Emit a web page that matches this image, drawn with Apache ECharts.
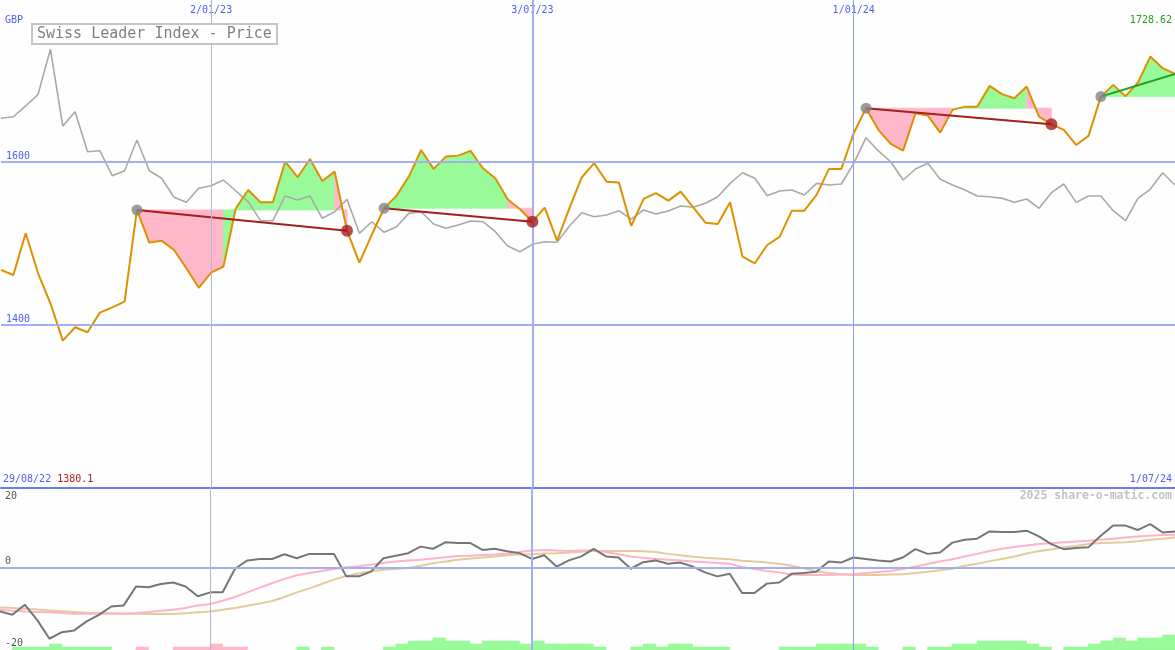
<!DOCTYPE html>
<html><head><meta charset="utf-8">
<script src="https://cdn.jsdelivr.net/npm/echarts@6/dist/echarts.min.js"></script>
<style>html,body{margin:0;padding:0;background:#fdfefd}#c{width:1175px;height:650px}</style>
</head><body><div id="c"></div>
<script>
// ---- data (weekly points, index 0..95) ----
const price = [1466.9,1460.7,1511.9,1462.8,1426,1380.1,1396.6,1390.4,1414.5,1421,1428,
 1540.5,1500.4,1502.8,1491.4,1469,1445,1463.6,1471,1542.6,1565,
 1550,1550,1599.8,1580.6,1603,1576,1587.5,1515,1475.8,1510,
 1542.6,1557.7,1581.4,1614,1590.8,1605.9,1607.1,1612.9,1591.6,1579.4,
 1553.6,1541.3,1526,1543.3,1502.8,1542.6,1580.6,1597.8,1575.2,1574,
 1520.9,1554,1561,1551.9,1563,1543.8,1524.9,1523.3,1550,1483.2,
 1475,1497.5,1507.5,1539.6,1539.6,1558.9,1590.8,1590.8,1634.6,1665.3,
 1638.7,1621.5,1613.3,1659.1,1656.2,1635.3,1663.2,1667.2,1667.2,1692.6,
 1682.5,1677.5,1691.8,1655,1645.6,1638.7,1620.2,1631.3,1679.5,1693.9,
 1680,1696.7,1728.62,1714.4,1707.4];
const compare = [1652.9,1654.8,1668,1682.3,1737.5,1643.4,1661,1611.9,1613.1,1582.5,1588.6,
 1626.3,1588.6,1579.3,1556,1549.8,1567,1570.2,1577.2,1563.7,1550.6,
 1527.3,1527.3,1557.6,1552.6,1557.6,1530.2,1538.3,1553.5,1511.8,1526,
 1513,1519.9,1536.3,1538.3,1523.2,1517.9,1522,1526.9,1526,1513.8,
 1496.2,1489.2,1498.3,1501.5,1500.8,1520.8,1537.1,1532.2,1534.2,1539.5,
 1529.3,1540.4,1535.5,1539.2,1545.3,1543.7,1548.6,1556.7,1573.1,1586.1,
 1579.3,1557.9,1563.7,1564.9,1558.8,1573.1,1571,1572.3,1597.7,1629.1,
 1612.8,1599.6,1577.2,1590.7,1597.7,1578,1571,1564.9,1557.6,1556.7,
 1554.7,1549.8,1553.9,1542.5,1561.6,1572.3,1549.8,1557.6,1557.6,1539.5,
 1527.3,1554.7,1565.8,1586.1,1571];
const momentum = [-12.2,-13.1,-10.3,-14.5,-19.7,-17.9,-17.4,-14.9,-13.1,-10.8,-10.5,
 -5.3,-5.5,-4.6,-4.2,-5.3,-8.0,-6.9,-6.9,-0.4,1.9,
 2.3,2.3,3.6,2.5,3.7,3.7,3.7,-2.5,-2.5,-1.2,
 2.5,3.2,3.9,5.7,5.1,6.9,6.7,6.7,4.8,5.1,
 4.4,3.9,2.3,3.3,0.2,1.9,3.0,5.1,3.0,2.7,
 -0.4,1.4,1.9,1.0,1.3,0.2,-1.4,-2.5,-1.8,-7.1,
 -7.1,-4.5,-4.2,-1.8,-1.6,-1.2,1.6,1.3,2.7,2.3,
 1.9,1.6,2.7,5.0,3.7,4.1,6.8,7.6,7.9,9.9,
 9.7,9.7,10.1,8.5,6.4,5.0,5.3,5.5,8.7,11.5,
 11.5,10.3,11.9,9.6,9.9];
const avgFast = [-11.7,-12.0,-12.2,-12.3,-12.4,-12.6,-12.8,-12.8,-12.8,-12.8,-12.8,
 -12.6,-12.3,-12.0,-11.7,-11.2,-10.5,-10.1,-9.2,-8.2,-6.9,
 -5.6,-4.4,-3.2,-2.2,-1.6,-1.0,-0.5,0.0,0.3,0.7,
 1.2,1.6,1.9,2.1,2.4,2.8,3.1,3.2,3.4,3.5,
 3.8,4.2,4.6,4.8,4.6,4.5,4.6,4.6,4.2,3.6,
 3.0,2.6,2.3,2.1,1.9,1.6,1.4,1.2,1.0,0.1,
 -0.5,-1.0,-1.4,-2.0,-2.1,-2.1,-2.1,-2.0,-1.9,-1.6,
 -1.3,-1.0,-0.5,0.2,0.9,1.6,2.2,3.0,3.7,4.5,
 5.1,5.6,6.0,6.4,6.6,6.9,7.1,7.3,7.6,7.9,
 8.2,8.5,8.7,8.9,9.0];
const avgSlow = [-11.1,-11.2,-11.4,-11.6,-11.9,-12.1,-12.3,-12.5,-12.6,-12.7,-12.8,
 -12.8,-12.9,-12.9,-12.9,-12.7,-12.4,-12.2,-11.7,-11.2,-10.6,
 -10.0,-9.3,-8.2,-6.9,-5.8,-4.6,-3.4,-2.4,-1.7,-1.1,
 -0.7,-0.5,-0.2,0.4,1.1,1.6,2.1,2.4,2.7,3.0,
 3.3,3.5,3.6,3.8,3.9,4.1,4.3,4.5,4.5,4.5,
 4.5,4.4,4.2,3.7,3.3,2.9,2.6,2.4,2.2,1.8,
 1.6,1.3,1.0,0.4,-0.3,-1.1,-1.6,-1.9,-2.1,-2.1,
 -2.1,-2.0,-1.9,-1.6,-1.2,-0.8,-0.4,0.4,1.0,1.7,
 2.3,3.0,3.8,4.5,4.9,5.5,5.9,6.4,6.7,6.8,
 6.9,7.2,7.6,7.9,8.2];
// signed step heights of the bottom signal strip, one per week interval (+ green, - pink)
const signalBars = [0,1,1,1,2,1,1,1,1,0,0,
 -1,0,0,-1,-1,-1,-2,-1,-1,0,
 0,0,0,1,0,1,0,0,0,0,
 1,2,3,3,4,3,3,2,3,3,
 3,2,3,2,2,2,2,1,0,0,
 1,2,1,2,2,1,1,1,0,0,
 0,0,1,1,1,2,2,2,2,1,
 0,0,1,0,1,1,2,2,3,3,
 3,3,2,1,0,1,1,2,3,4,
 3,4,4,5,0];
const trades = [[11,28],[31,43],[70,85],[89,95]]; // [entry index, exit index]
const openTrades = [3];
const tickIdx = [17,43,69];
const tickLabels = ['2/01/23','3/07/23','1/01/24'];
const startLabel = '29/08/22', endLabel = '1/07/24';
const priceTicks = [1400,1600];
const lowerTicks = [-20,0,20];
const titleText = 'Swiss Leader Index - Price';
const currencyText = 'GBP';
const creditText = '2025 share-o-matic.com';

// ---- styles ----
const MONO = 'DejaVu Sans Mono';
const BLUE_TXT = '#4f5ff0';
const GRID_C = '#a3aff0';
const GREEN_F = '#98fa98';
const PINK_F = '#ffb7ca';
const N = price.length;

const fillData = [];
trades.forEach(([a,b]) => {
  const lv = price[a];
  for (let i = a; i < b; i++) fillData.push([i, price[i], price[i+1], lv]);
});
const barData = signalBars.map((v,i)=>[i,v]).filter(d=>d[1]!==0);
const entryPts = trades.map(([a]) => [a, price[a]]);
const exitPts = trades.filter((t,k)=>openTrades.indexOf(k)<0).map(([a,b]) => [b, price[b]]);
const tradeSeries = trades.map(([a,b]) => ({
  type:'line', xAxisIndex:0, yAxisIndex:0, z:4, symbol:'none', silent:true,
  data:[[a,price[a]],[b,price[b]]],
  lineStyle:{color: price[b] >= price[a] ? '#22a022' : '#a41f1f', width:2}
}));
const vLines = [
  {xAxis:tickIdx[0], lineStyle:{color:'#b3b6cc', width:1, type:'solid'}},
  {xAxis:tickIdx[1], lineStyle:{color:GRID_C, width:2, type:'solid'}},
  {xAxis:tickIdx[2], lineStyle:{color:'#8f9ff2', width:1, type:'solid'}}
];
const maxP = Math.max(...price), minP = Math.min(...price);
const lowRich = {fontFamily:MONO,fontSize:10,color:'#555555'};

const chart = echarts.init(document.getElementById('c'), null, {renderer:'canvas'});
chart.setOption({
  animation:false,
  backgroundColor:'#fdfefd',
  title:{text:titleText, left:32, top:24, padding:[3,5,2,5], borderColor:'#c4c4c4', borderWidth:2,
    backgroundColor:'#ffffff', textStyle:{fontFamily:MONO, fontSize:15, fontWeight:'normal', color:'#808080'}},
  graphic:[
    {type:'text', left:5, top:15, style:{text:currencyText, font:'10px "DejaVu Sans Mono"', fill:BLUE_TXT}},
    {type:'text', right:3, top:15, style:{text:String(maxP), font:'10px "DejaVu Sans Mono"', fill:'#22a022'}},
    {type:'text', right:3, top:490, style:{text:creditText, font:'bold 11.5px "DejaVu Sans Mono"', fill:'#c4c4c4'}}
  ],
  grid:[
    {left:0, right:0, top:0, height:487.5},
    {left:0, right:0, top:487.5, height:162.5}
  ],
  xAxis:[
    {type:'value', gridIndex:0, min:0, max:N-1, position:'bottom',
      axisLine:{show:true, onZero:false, lineStyle:{color:'#6c7ce8', width:2}},
      axisTick:{show:false}, splitLine:{show:false},
      axisLabel:{show:true, inside:true, margin:3, customValues:[0,N-1], alignMinLabel:'left', alignMaxLabel:'right',
        fontFamily:MONO, fontSize:10, color:BLUE_TXT,
        formatter:v => v===0 ? '{d|'+startLabel+'} {r|'+String(minP)+'}' : '{e|'+endLabel+'}',
        rich:{d:{fontFamily:MONO,fontSize:10,color:BLUE_TXT,padding:[0,0,0,2]}, r:{fontFamily:MONO,fontSize:10,color:'#a41f1f'},
              e:{fontFamily:MONO,fontSize:10,color:BLUE_TXT,padding:[0,3,0,0]}}}},
    {type:'value', gridIndex:0, min:0, max:N-1, position:'top',
      axisLine:{show:false}, axisTick:{show:false}, splitLine:{show:false},
      axisLabel:{show:true, inside:true, margin:5, customValues:tickIdx, fontFamily:MONO, fontSize:10, color:BLUE_TXT,
        formatter:v => tickLabels[tickIdx.indexOf(v)]}},
    {type:'value', gridIndex:1, min:0, max:N-1, show:false}
  ],
  yAxis:[
    {type:'value', gridIndex:0, min:1200, max:1798, position:'left',
      axisLine:{show:false}, axisTick:{show:false}, splitLine:{show:false},
      axisLabel:{show:true, inside:true, margin:5, customValues:priceTicks, verticalAlign:'bottom',
        fontFamily:MONO, fontSize:10, color:BLUE_TXT, formatter:v => String(v)}},
    {type:'value', gridIndex:1, min:-22.8, max:22, position:'left',
      axisLine:{show:false}, axisTick:{show:false}, splitLine:{show:false},
      axisLabel:{show:true, inside:true, margin:5, customValues:lowerTicks, fontFamily:MONO, fontSize:10, color:'#555555',
        formatter:v => v===0 ? '{z|0}' : (v>0 ? '{p|'+v+'}' : '{m|'+v+'}'),
        rich:{z:Object.assign({padding:[0,0,11,0]},lowRich), p:Object.assign({padding:[4,0,0,0]},lowRich),
              m:Object.assign({padding:[7,0,0,0]},lowRich)}}},
    {type:'value', gridIndex:1, min:0, max:54, show:false}
  ],
  series:[
    {type:'line', xAxisIndex:0, yAxisIndex:0, data:[], z:0, silent:true,
      markLine:{symbol:'none', silent:true, animation:false, label:{show:false},
        data:[{yAxis:priceTicks[0], lineStyle:{color:GRID_C,width:2,type:'solid'}},
              {yAxis:priceTicks[1], lineStyle:{color:GRID_C,width:2,type:'solid'}}].concat(vLines)}},
    {type:'line', xAxisIndex:2, yAxisIndex:1, data:[], z:0, silent:true,
      markLine:{symbol:'none', silent:true, animation:false, label:{show:false},
        data:[{yAxis:0, lineStyle:{color:GRID_C,width:2,type:'solid'}}].concat(vLines)}},
    {type:'custom', xAxisIndex:0, yAxisIndex:0, z:1, silent:true, data:fillData,
      encode:{x:0, y:1},
      renderItem:(params, api) => {
        const i = api.value(0), p0 = api.value(1), p1 = api.value(2), lv = api.value(3);
        const pts = [api.coord([i,lv]), api.coord([i,p0]), api.coord([i+1,p1]), api.coord([i+1,lv])];
        const c = p1 >= lv ? GREEN_F : PINK_F;
        return {type:'polygon', shape:{points:pts}, style:{fill:c, stroke:c, lineWidth:0.8}};
      }},
    {type:'line', xAxisIndex:0, yAxisIndex:0, z:2, symbol:'none', silent:true,
      data:compare.map((v,i)=>[i,v]), lineStyle:{color:'#a9a9a9', width:1.6}},
    {type:'line', xAxisIndex:0, yAxisIndex:0, z:3, symbol:'none', silent:true,
      data:price.map((v,i)=>[i,v]), lineStyle:{color:'#dc9100', width:2}},
    ...tradeSeries,
    {type:'scatter', xAxisIndex:0, yAxisIndex:0, z:5, silent:true, symbolSize:11,
      data:entryPts, itemStyle:{color:'#858585'}},
    {type:'scatter', xAxisIndex:0, yAxisIndex:0, z:5, silent:true, symbolSize:12,
      data:exitPts, itemStyle:{color:'#a81d1d'}},
    {type:'custom', xAxisIndex:2, yAxisIndex:2, z:1, silent:true, data:barData,
      encode:{x:0, y:1},
      renderItem:(params, api) => {
        const i = api.value(0), v = api.value(1);
        const a = api.coord([i,0]), b = api.coord([i+1,Math.abs(v)]);
        const c = v>0 ? GREEN_F : PINK_F;
        return {type:'rect', shape:{x:a[0], y:b[1], width:b[0]-a[0], height:a[1]-b[1]}, style:{fill:c, stroke:c, lineWidth:0.6}};
      }},
    {type:'line', xAxisIndex:2, yAxisIndex:1, z:2, symbol:'none', silent:true,
      data:avgSlow.map((v,i)=>[i,v]), lineStyle:{color:'#e3cb9c', width:2}},
    {type:'line', xAxisIndex:2, yAxisIndex:1, z:2, symbol:'none', silent:true,
      data:avgFast.map((v,i)=>[i,v]), lineStyle:{color:'#ffb3c9', width:2}},
    {type:'line', xAxisIndex:2, yAxisIndex:1, z:3, symbol:'none', silent:true,
      data:momentum.map((v,i)=>[i,v]), lineStyle:{color:'#767676', width:2}}
  ]
});
</script></body></html>
